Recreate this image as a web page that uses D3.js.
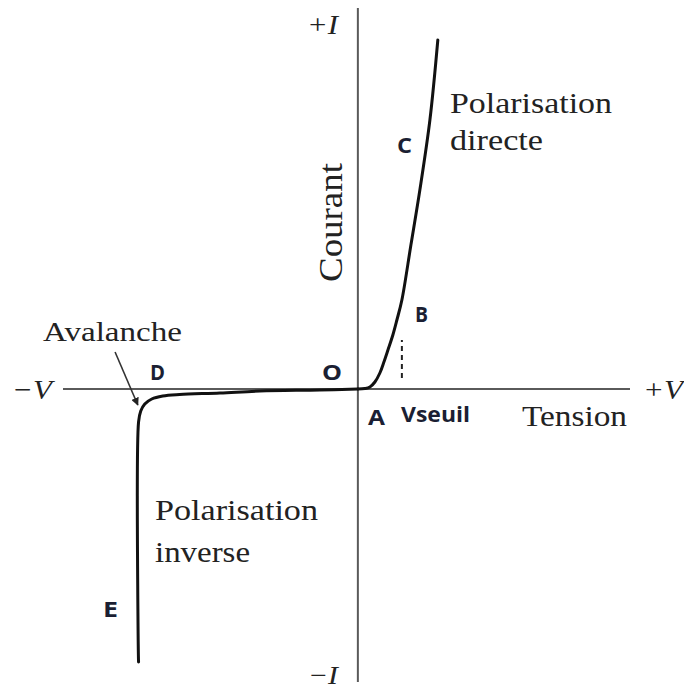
<!DOCTYPE html>
<html>
<head>
<meta charset="utf-8">
<script src="https://cdn.jsdelivr.net/npm/d3@7"></script>
<style>
  html, body { margin: 0; padding: 0; background: #fff; }
  svg { display: block; }
</style>
</head>
<body>
<svg id="chart" width="684" height="689"></svg>
<script>
// ---- Data (volts, milliamps) ----
const forwardV = [0, 0.095, 0.164, 0.232, 0.30, 0.355, 0.41, 0.477, 0.532, 0.60, 0.723, 0.845, 0.982, 1.09];
const forwardI = [0, 0.05, 0.2, 0.7, 1.6, 2.7, 3.9, 5.4, 6.9, 8.9, 14.4, 19.9, 26.9, 34.9];
const reverseV = [0, -0.518, -1.336, -1.88, -2.43, -2.66, -2.81, -2.905, -2.96, -2.99, -2.99];
const reverseI = [0, -0.1, -0.2, -0.4, -0.55, -0.7, -1.0, -1.5, -2.2, -3.3, -27.3];
const vSeuil = 0.6;
const vSeuilMarkI = [1.1, 4.9];
const axisV = [-4.02, 3.71];
const axisI = [-29.3, 38.1];
const avalancheArrowV = [-3.31, -3.0];
const avalancheArrowI = [3.7, -1.6];

const svg = d3.select("#chart");
const x = d3.scaleLinear().domain(axisV).range([63, 630]);
const y = d3.scaleLinear().domain(axisI).range([682, 8]);

const serif = "'Liberation Serif', 'Times New Roman', serif";
const sans = "'Open Sans', 'Liberation Sans', Arial, sans-serif";
const labelColor = "#1b1f33";

// Axes
svg.append("line").attr("x1", x(axisV[0])).attr("x2", x(axisV[1]))
  .attr("y1", y(0)).attr("y2", y(0)).attr("stroke", "#5a5a5a").attr("stroke-width", 2);
svg.append("line").attr("x1", x(0)).attr("x2", x(0))
  .attr("y1", y(axisI[0])).attr("y2", y(axisI[1])).attr("stroke", "#5a5a5a").attr("stroke-width", 2);

// Curves
const line = d3.line().x(d => x(d[0])).y(d => y(d[1])).curve(d3.curveCatmullRom.alpha(0.5));
const fwd = forwardV.map((v, i) => [v, forwardI[i]]);
const rev = reverseV.map((v, i) => [v, reverseI[i]]);
svg.append("path").attr("d", line(fwd)).attr("fill", "none")
  .attr("stroke", "#111").attr("stroke-width", 3).attr("stroke-linecap", "round");
svg.append("path").attr("d", line(rev)).attr("fill", "none")
  .attr("stroke", "#111").attr("stroke-width", 3).attr("stroke-linecap", "round");

// Vseuil dashed marker
svg.append("line").attr("x1", x(vSeuil)).attr("x2", x(vSeuil))
  .attr("y1", y(vSeuilMarkI[0])).attr("y2", y(vSeuilMarkI[1]))
  .attr("stroke", "#222").attr("stroke-width", 2).attr("stroke-dasharray", "5,4");

// Avalanche arrow
svg.append("defs").append("marker").attr("id", "arrow")
  .attr("viewBox", "0 0 10 10").attr("refX", 9).attr("refY", 5)
  .attr("markerWidth", 5).attr("markerHeight", 5).attr("orient", "auto")
  .append("path").attr("d", "M0,0 L10,5 L0,10 z").attr("fill", "#222");
svg.append("line")
  .attr("x1", x(avalancheArrowV[0])).attr("y1", y(avalancheArrowI[0]))
  .attr("x2", x(avalancheArrowV[1])).attr("y2", y(avalancheArrowI[1]))
  .attr("stroke", "#333").attr("stroke-width", 1.6).attr("marker-end", "url(#arrow)");

// Texts
function txt(s, xx, yy, size, len, opts = {}) {
  const t = svg.append("text").attr("x", xx).attr("y", yy)
    .attr("font-family", opts.family || serif).attr("font-size", size)
    .attr("fill", opts.fill || "#222")
    .attr("font-style", opts.italic ? "italic" : "normal")
    .attr("font-weight", opts.bold ? "bold" : "normal")
    .text(s);
  if (len) t.attr("textLength", len).attr("lengthAdjust", "spacingAndGlyphs");
  return t;
}

txt("+I", 307, 34, 28, 31, { italic: true });
txt("\u2212I", 308, 684, 26, 30, { italic: true });
txt("\u2212V", 12, 399, 28, 40, { italic: true });
txt("+V", 643, 399, 28, 40, { italic: true });
txt("Tension", 522, 426, 30, 105);
txt("Polarisation", 450, 113, 30, 162);
txt("directe", 450, 150, 30, 93);
txt("Polarisation", 155, 520, 30, 163);
txt("inverse", 155, 562, 30, 95);
txt("Avalanche", 43, 341, 27, 139);
svg.append("text").attr("transform", "translate(342,282) rotate(-90)")
  .attr("font-family", serif).attr("font-size", 34).attr("fill", "#222")
  .attr("textLength", 119).attr("lengthAdjust", "spacingAndGlyphs").text("Courant");

// Point labels
const sOpt = { family: sans, bold: true, fill: labelColor };
txt("O", 322, 380, 22, 20, sOpt);
txt("D", 150, 380, 22, 15, sOpt);
txt("A", 368, 425, 22, 17, sOpt);
txt("Vseuil", 401, 422, 22, 69, sOpt);
txt("B", 415, 322, 22, 13, sOpt);
txt("C", 397, 153, 22, 15, sOpt);
txt("E", 103, 617, 22, 15, sOpt);
</script>
</body>
</html>
